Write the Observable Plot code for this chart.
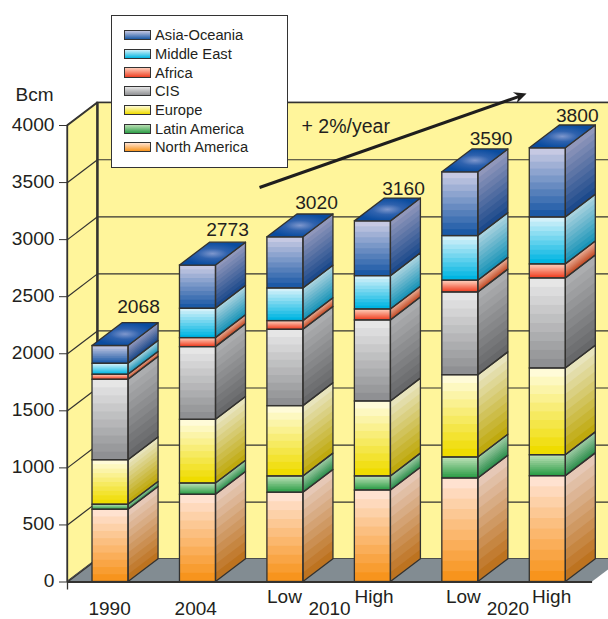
<!DOCTYPE html>
<html>
<head>
<meta charset="utf-8">
<script src="https://cdn.jsdelivr.net/npm/d3@7"></script>
<script src="https://cdn.jsdelivr.net/npm/@observablehq/plot@0.6"></script>
<style>
  html, body { margin: 0; padding: 0; background: #fff; width: 608px; height: 619px; overflow: hidden; }
  #chart { position: relative; width: 608px; height: 619px; font-family: "Liberation Sans", Arial, sans-serif; color: #231f20; }
  #legend { position: absolute; left: 111px; top: 15px; width: 175px; height: 151px; background: #fff; border: 1.3px solid #333; }
  #legend .row { position: absolute; left: 12px; height: 18px; display: flex; align-items: center; font-size: 14.7px; line-height: 18px; white-space: nowrap; }
  #legend .swatch { width: 24.5px; height: 8.5px; border: 1.2px solid #333; margin-right: 4.5px; }
</style>
</head>
<body>
<div id="chart"></div>
<script>
// Natural gas demand by region, Bcm
const slots = ["1990", "2004", "2010 Low", "2010 High", "2020 Low", "2020 High"];
const totals = [2068, 2773, 3020, 3160, 3590, 3800];

const northAmerica = [633, 764, 782, 802, 907, 927];
const latinAmerica = [44, 99, 143, 123, 184, 184];
const europe = [390, 558, 616, 657, 721, 760];
const cis = [705, 637, 669, 710, 725, 789];
const africa = [44, 79, 76, 96, 103, 123];
const middleEast = [96, 257, 286, 292, 391, 411];
const asiaOceania = [156, 379, 448, 480, 559, 606];

const regions = [
  {name: "North America", values: northAmerica, front: ["#f7941d", "#ffe2d0"], side: ["#bd7320", "#e6c8b6"]},
  {name: "Latin America", values: latinAmerica, front: ["#2e9e48", "#b9dfb4"], side: ["#2f8f4e", "#9ccaa2"]},
  {name: "Europe", values: europe, front: ["#efdc00", "#fffbd8"], side: ["#bfa90e", "#e8e4bc"]},
  {name: "CIS", values: cis, front: ["#8f9093", "#e6e6e6"], side: ["#67686a", "#acadaf"]},
  {name: "Africa", values: africa, front: ["#ef4023", "#ffcdb9"], side: ["#c24a25", "#e8ac94"]},
  {name: "Middle East", values: middleEast, front: ["#00b5e2", "#d2f1fa"], side: ["#1a94b8", "#a8d2de"]},
  {name: "Asia-Oceania", values: asiaOceania, front: ["#1c5aa6", "#c6c9e3"], side: ["#1d4a8c", "#9097bb"]}
];

const yearLabels = [
  {text: "1990", slot: 0.195},
  {text: "2004", slot: 1.18},
  {text: "2010", slot: 2.71},
  {text: "2020", slot: 4.75}
];
const scenarioLabels = [
  {text: "Low", slot: 2.195},
  {text: "High", slot: 3.22},
  {text: "Low", slot: 4.24},
  {text: "High", slot: 5.25}
];

const ticks = d3.range(0, 4001, 500);

// Oblique projection: how far the box depth shifts a point in x (slots) and y (Bcm)
const depthX = 0.343;
const depthY = 200;
const barWidth = 0.412;
const wallX = -0.286;
const floorEnd = 5.718;
const rightEdge = 6.6;
const bands = 10;

// Where the totals sit relative to their boxes: across in slots, extra height in Bcm
const totalShift = [0.526, 0.544, 0.561, 0.556, 0.557, 0.543];
const totalLift = [50, 28, 15, 0, 0, 0];

const ink = "#333230";
const wallFill = "#fff59b";
const floorFill = "#828c92";

// Split every stacked segment into flat colour bands; each band paints up to
// the segment's top so neighbouring bands never leave a seam
const frontBands = [];
const sideBands = [];
const frontEdges = [];
const sideEdges = [];
const topFaces = [];

slots.forEach((slot, i) => {
  let base = 0;
  regions.forEach((region, r) => {
    const top = base + region.values[i];
    const frontColor = d3.interpolateRgb(...region.front);
    const sideColor = d3.interpolateRgb(...region.side);
    for (let b = 0; b < bands; ++b) {
      const from = base + (top - base) * b / bands;
      const t = b / (bands - 1);
      frontBands.push({x1: i, x2: i + barWidth, y1: from, y2: top, fill: frontColor(t)});
      const id = `${i}-${r}-${b}`;
      sideBands.push({id, x: i + barWidth, y1: from, y2: top, fill: sideColor(t)});
      sideBands.push({id, x: i + barWidth + depthX, y1: from + depthY, y2: top + depthY, fill: sideColor(t)});
    }
    frontEdges.push({x1: i, x2: i + barWidth, y1: base, y2: top});
    const edge = `${i}-${r}`;
    sideEdges.push({id: edge, x: i + barWidth, y1: base, y2: top});
    sideEdges.push({id: edge, x: i + barWidth + depthX, y1: base + depthY, y2: top + depthY});
    base = top;
  });
  topFaces.push({id: i, x1: i, x2: i + barWidth, y: base});
  topFaces.push({id: i, x1: i + depthX, x2: i + barWidth + depthX, y: base + depthY});
});

const glow = () => {
  const defs = d3.create("svg:defs");
  const g = defs.append("radialGradient").attr("id", "topGlow");
  g.append("stop").attr("offset", "0%").attr("stop-color", "#7e97cd");
  g.append("stop").attr("offset", "45%").attr("stop-color", "#2f62ae");
  g.append("stop").attr("offset", "100%").attr("stop-color", "#0a4c9f");
  return defs.node();
};

const arrowHead = {
  draw(context) {
    context.moveTo(0, -8);
    context.lineTo(5.8, 4.5);
    context.lineTo(0, 0.5);
    context.lineTo(-5.8, 4.5);
    context.closePath();
  }
};

const chart = Plot.plot({
  width: 608,
  height: 619,
  marginLeft: 67,
  marginRight: 0,
  marginTop: 125,
  marginBottom: 37.5,
  style: {fontFamily: "'Liberation Sans', Arial, sans-serif", color: "#231f20", background: "transparent", overflow: "hidden"},
  x: {domain: [wallX, 5.9], axis: null},
  y: {domain: [0, 4000]},
  color: {type: "identity"},
  marks: [
    glow,
    // Back wall, floor and left wall of the box
    Plot.rect([0], {x1: wallX + depthX, x2: rightEdge, y1: depthY, y2: 4000 + depthY, fill: wallFill, stroke: ink, strokeWidth: 1.2}),
    Plot.ruleY(ticks, {y: d => d + depthY, x1: wallX + depthX, x2: rightEdge, stroke: ink, strokeWidth: 1.2}),
    Plot.area([wallX, wallX + depthX], {x1: d => d, y1: d => (d === wallX ? 0 : depthY), y2: d => (d === wallX ? 4000 : 4000 + depthY), fill: wallFill, stroke: ink, strokeWidth: 1.2}),
    Plot.area([0, depthY], {x1: d => wallX + d / depthY * depthX, x2: d => floorEnd + d / depthY * depthX, y1: d => d, fill: floorFill}),
    Plot.link(ticks, {x1: wallX, y1: d => d, x2: wallX + depthX, y2: d => d + depthY, stroke: ink, strokeWidth: 1.2}),
    Plot.ruleX([wallX + depthX], {y1: depthY, y2: 4000 + depthY, stroke: ink, strokeWidth: 2.4}),
    Plot.ruleX([wallX], {y1: -70, y2: 4000, stroke: ink, strokeWidth: 1.3}),

    // Stacked boxes
    Plot.rect(frontBands, {x1: "x1", x2: "x2", y1: "y1", y2: "y2", fill: "fill"}),
    Plot.area(sideBands, {x1: "x", y1: "y1", y2: "y2", z: "id", fill: "fill"}),
    Plot.rect(frontEdges, {x1: "x1", x2: "x2", y1: "y1", y2: "y2", fill: "none", stroke: ink, strokeWidth: 1.3}),
    Plot.area(sideEdges, {x1: "x", y1: "y1", y2: "y2", z: "id", fill: "none", stroke: ink, strokeWidth: 1.3}),
    Plot.area(topFaces, {x1: "x1", x2: "x2", y1: "y", z: "id", fill: "url(#topGlow)", stroke: ink, strokeWidth: 1.3}),

    // Baseline and value axis
    Plot.ruleY([0], {x1: wallX, x2: floorEnd, stroke: ink, strokeWidth: 2}),
    Plot.axisY({ticks, text: null, tickSize: 8, label: null, stroke: ink}),
    Plot.text(ticks, {x: wallX, y: d => d, dx: -13, dy: -1, text: d => `${d}`, textAnchor: "end", fontSize: 19.2, fill: "#231f20"}),
    Plot.text(["Bcm"], {x: wallX, y: 4000 + depthY, dx: -52, dy: -8, textAnchor: "start", fontSize: 19, fill: "#231f20"}),

    // Totals above the boxes
    Plot.text(totals, {x: (d, i) => i + totalShift[i], y: (d, i) => d + depthY + totalLift[i], text: d => `${d}`, lineAnchor: "bottom", dy: -4, fontSize: 19.2, fill: "#231f20"}),

    // Scenario and year labels under the floor
    Plot.text(scenarioLabels, {x: "slot", y: 0, text: "text", lineAnchor: "bottom", dy: 21, fontSize: 19, fill: "#231f20"}),
    Plot.text(yearLabels, {x: "slot", y: 0, text: "text", lineAnchor: "bottom", dy: 33, fontSize: 19, fill: "#231f20"}),

    // Growth arrow
    Plot.link([0], {x1: 1.91, y1: 3457, x2: 4.88, y2: 4255, stroke: "#1f1e1d", strokeWidth: 3}),
    Plot.dot([0], {x: 4.877, y: 4257, symbol: arrowHead, rotate: 70.6, fill: "#1f1e1d", stroke: "none"}),
    Plot.text(["+ 2%/year"], {x: 2.39, y: 3991, textAnchor: "start", fontSize: 19.5, fill: "#231f20"})
  ]
});

const container = document.getElementById("chart");
container.appendChild(chart);

// Legend box lying over the chart, newest region first
const legend = d3.select(container).append("div").attr("id", "legend");
const rowTops = [10, 29, 47.5, 66, 85, 104, 122];
[...regions].reverse().forEach((region, i) => {
  const row = legend.append("div").attr("class", "row").style("top", `${rowTops[i]}px`);
  row.append("div").attr("class", "swatch")
    .style("background", `linear-gradient(to bottom, ${region.front[1]}, ${region.front[0]})`);
  row.append("span").text(region.name);
});
</script>
</body>
</html>
